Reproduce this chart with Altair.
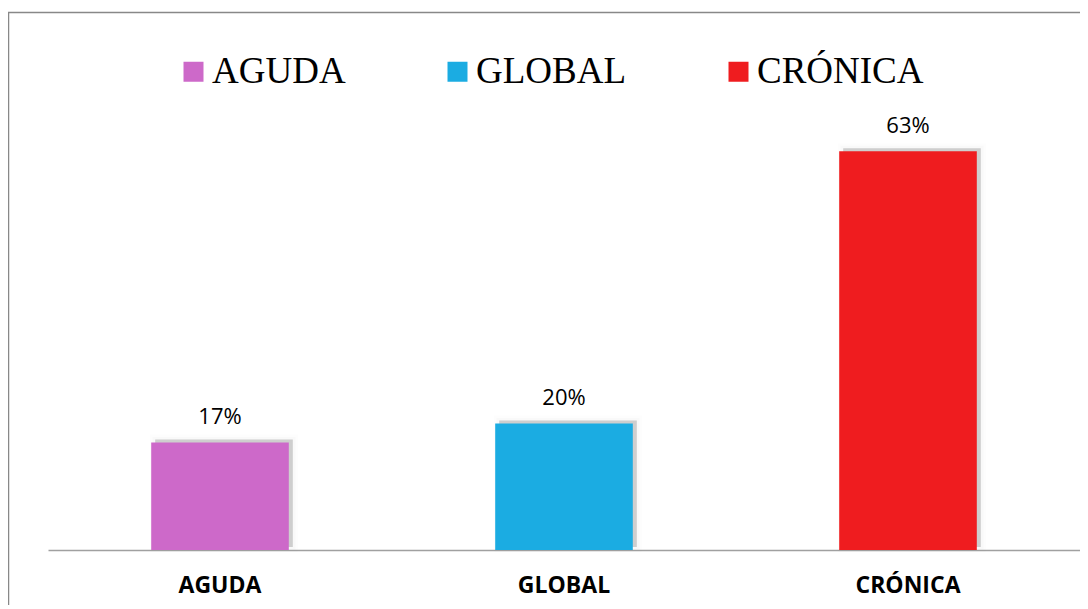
import altair as alt
import pandas as pd

categorias = ["AGUDA", "GLOBAL", "CRÓNICA"]
valores = [17, 20, 63]
etiquetas = ["17%", "20%", "63%"]
colores = ["#CD69C9", "#1BACE2", "#EF1C1F"]

df = pd.DataFrame({"categoria": categorias, "valor": valores, "etiqueta": etiquetas})

x_enc = alt.X(
    "categoria:N",
    sort=categorias,
    scale=alt.Scale(paddingInner=0.6, paddingOuter=0.3),
    axis=alt.Axis(
        title=None, labelAngle=0, ticks=False, grid=False,
        labelFont="Open Sans", labelFontWeight="bold", labelFontSize=23,
        labelColor="black", labelPadding=24,
        domainColor="#A0A0A0", domainWidth=1.5,
    ),
)
y_enc = alt.Y("valor:Q", scale=alt.Scale(domain=[0, 70]), axis=None)

base = alt.Chart(df).encode(x=x_enc, y=y_enc)

border = alt.Chart(pd.DataFrame({"b": [0]})).mark_rect(
    fillOpacity=0, stroke="#888888", strokeWidth=1.5
).encode(
    x=alt.value(-39.5), x2=alt.value(1300), y=alt.value(-94.5), y2=alt.value(900)
)

shadow1 = base.mark_bar(
    color="#000000", opacity=0.07, xOffset=4, yOffset=-3,
    stroke="#000000", strokeWidth=10, strokeOpacity=0.07,
)
shadow2 = base.mark_bar(
    color="#000000", opacity=0.12, xOffset=4, yOffset=-3,
    stroke="#000000", strokeWidth=5, strokeOpacity=0.12,
)

bars = base.mark_bar().encode(
    color=alt.Color(
        "categoria:N",
        sort=categorias,
        scale=alt.Scale(domain=categorias, range=colores),
        legend=alt.Legend(
            title=None, orient="none", direction="horizontal",
            legendX=127, legendY=-54, padding=0,
            symbolType="square", symbolSize=400, symbolStrokeWidth=0,
            labelFont="Liberation Serif", labelFontSize=37, labelColor="black",
            labelOffset=0, columnPadding=93, labelLimit=400,
        ),
    )
)

text = base.mark_text(
    baseline="alphabetic", dy=-18, font="Open Sans", fontSize=22, color="black"
).encode(text="etiqueta:N")

chart = alt.layer(border, shadow1, shadow2, bars, text).properties(
    width=1032,
    height=443,
    background="white",
    autosize=alt.AutoSizeParams(type="none"),
    padding={"left": 40, "top": 99, "right": 0, "bottom": 55},
).configure_view(strokeWidth=0, stroke="transparent")

chart.save("out.html", embed_options={"renderer": "svg", "actions": False})
